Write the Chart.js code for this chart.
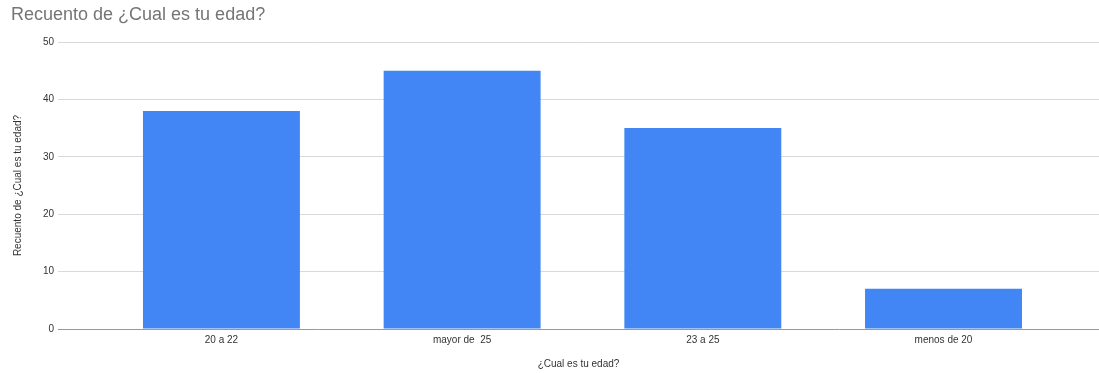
<!DOCTYPE html>
<html>
<head>
<meta charset="utf-8">
<script src="https://cdn.jsdelivr.net/npm/chart.js@4"></script>
<style>
html,body{margin:0;padding:0;background:#fff;}
canvas{display:block;}
</style>
</head>
<body>
<canvas id="c" width="1099" height="373"></canvas>
<script>
const chartTitle = "Recuento de ¿Cual es tu edad?";
const xTitle = "¿Cual es tu edad?";
const yTitle = "Recuento de ¿Cual es tu edad?";
const categories = ["20 a 22", "mayor de  25", "23 a 25", "menos de 20"];
const counts = [38, 45, 35, 7];
const yTicks = [0, 10, 20, 30, 40, 50];

const FONT = "Arial, 'Liberation Sans', sans-serif";
const points = categories.map((c, i) => ({x: i, y: counts[i]}));

new Chart(document.getElementById('c'), {
  type: 'bar',
  data: {
    datasets: [{
      label: yTitle,
      data: points,
      backgroundColor: '#4285f4',
      borderWidth: 0,
      barPercentage: 0.652,
      categoryPercentage: 1
    }]
  },
  options: {
    responsive: false,
    animation: false,
    devicePixelRatio: 1,
    layout: {padding: {left: 11, right: 0, top: 0, bottom: 0}},
    plugins: {
      legend: {display: false},
      tooltip: {enabled: false},
      title: {
        display: true,
        text: chartTitle,
        align: 'start',
        color: '#757575',
        font: {family: FONT, size: 18, weight: 'normal'},
        padding: {top: 4, bottom: 16.4}
      }
    },
    scales: {
      x: {
        type: 'linear',
        offset: false,
        min: -0.679,
        max: 3.646,
        grid: {display: false, drawTicks: false},
        border: {display: true, color: '#999999', width: 1},
        afterBuildTicks: (s) => { s.ticks = categories.map((c, i) => ({value: i})); },
        ticks: {
          autoSkip: false,
          maxRotation: 0,
          padding: 5,
          color: '#333333',
          font: {family: FONT, size: 10},
          callback: (v) => categories[v]
        },
        title: {
          display: true,
          text: xTitle,
          color: '#333333',
          font: {family: FONT, size: 10},
          padding: {top: 7, bottom: 3}
        }
      },
      y: {
        min: 0,
        max: 50,
        afterBuildTicks: (s) => { s.ticks = yTicks.map(v => ({value: v})); },
        afterFit: (s) => { s.width = 47; },
        grid: {
          drawTicks: false,
          color: (ctx) => ctx.tick && ctx.tick.value === 0 ? 'rgba(0,0,0,0)' : '#d9d9d9',
          lineWidth: 1
        },
        border: {display: false},
        ticks: {
          padding: 4,
          color: '#333333',
          font: {family: FONT, size: 10}
        },
        title: {
          display: true,
          text: yTitle,
          color: '#333333',
          font: {family: FONT, size: 10},
          padding: {top: 1, bottom: 0}
        }
      }
    }
  }
});
</script>
</body>
</html>
